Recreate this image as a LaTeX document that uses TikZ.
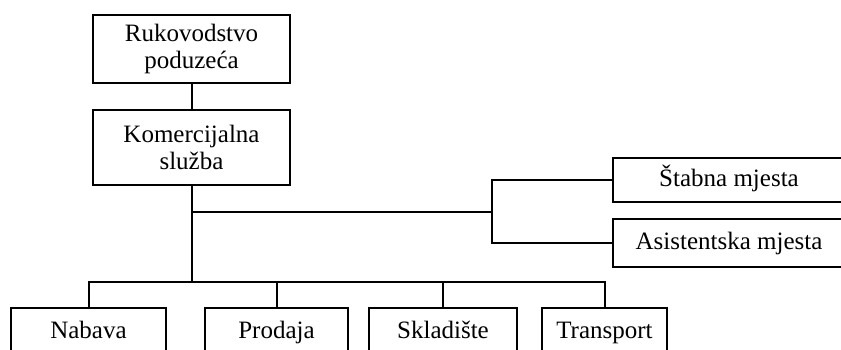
\documentclass[tikz,border=0pt]{standalone}
\usepackage{fontspec}
\setmainfont{Liberation Serif}

\begin{document}
\begin{tikzpicture}[x=0.5pt, y=-0.5pt, line width=1pt, every node/.style={draw, rectangle, inner sep=0pt, align=center, font=\fontsize{12.5}{13.5}\selectfont}, unit/.style={text height=9pt, text depth=3pt, minimum height=24pt}]
\useasboundingbox (0,0) rectangle (841,349);
\clip (0,0) rectangle (841,349);
\node[minimum width=98.5pt, minimum height=34pt] (RP) at (191.50,49.00) {Rukovodstvo\\poduzeća};
\node[minimum width=98.5pt, minimum height=37.5pt] (KS) at (191.50,147.50) {Komercijalna\\služba};
\node[unit, minimum width=116pt, minimum height=22pt] (SM) at (729.00,180.00) {Štabna mjesta};
\node[unit, minimum width=116pt] (AM) at (729.00,243.00) {Asistentska mjesta};
\node[unit, minimum width=77.5pt] (NB) at (88.50,332.00) {Nabava};
\node[unit, minimum width=71.5pt] (PR) at (276.50,332.00) {Prodaja};
\node[unit, minimum width=74pt] (SK) at (443.00,332.00) {Skladište};
\node[unit, minimum width=62.5pt] (TR) at (604.50,332.00) {Transport};
\coordinate (S) at (492.00,212.00);
\coordinate (B) at (189.00,282.00);
\draw (RP) -- (KS);
\draw (KS) -- (KS |- B);
\draw (KS |- S) -- (S);
\draw (SM.west) -| (S) |- (AM.west);
\draw (NB.north) |- (B) -| (TR.north);
\draw (PR.north) -- (PR.north |- B);
\draw (SK.north) -- (SK.north |- B);
\end{tikzpicture}
\end{document}
